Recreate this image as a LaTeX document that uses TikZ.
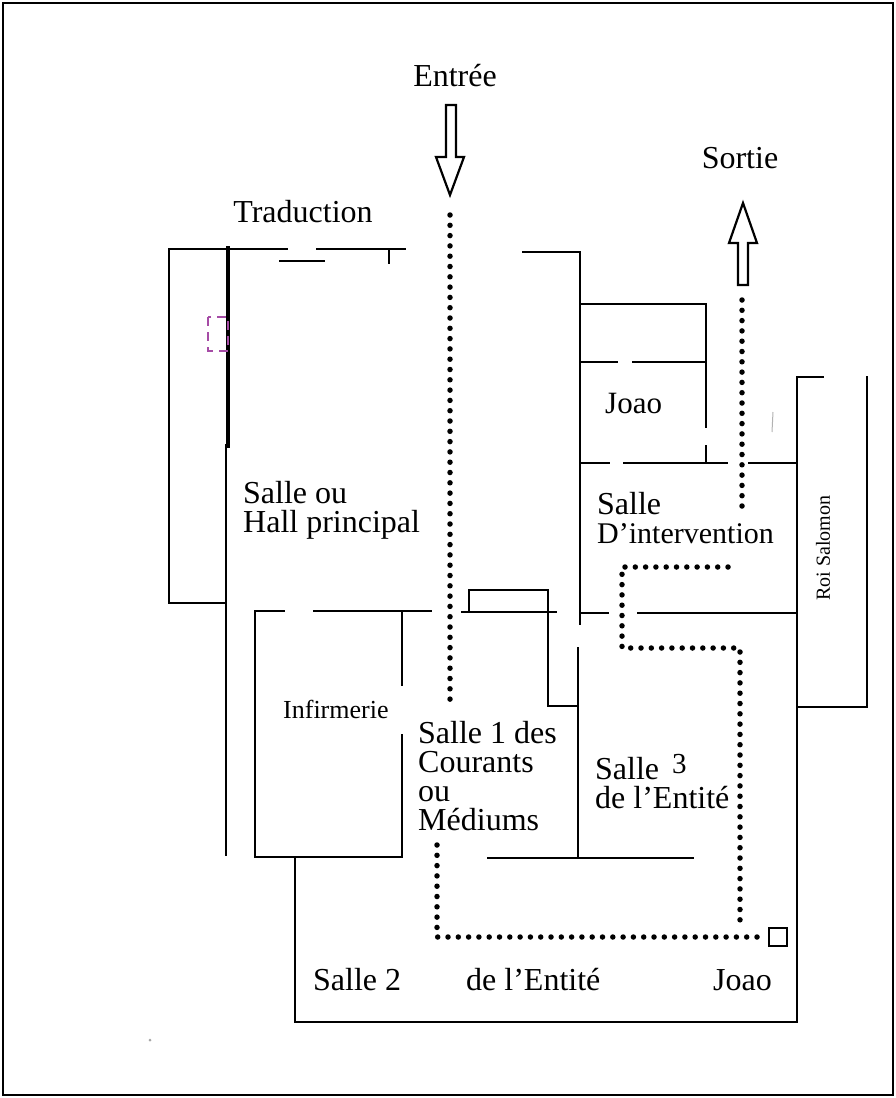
\documentclass[tikz,border=0pt]{standalone}
\usepackage{fontspec}
\setmainfont{Liberation Serif}
\usepackage{tikz}

\tikzset{
    wall/.style={line width=2.6pt, line cap=rect},
    dots/.style={line width=5.5pt, line cap=round, dash pattern=on 0pt off 10.3pt},
    lbl/.style={anchor=base west, inner sep=0pt, align=left, font=\fontsize{32}{29}\selectfont},
    small/.style={anchor=base west, inner sep=0pt, font=\fontsize{26}{26}\selectfont}
}

\begin{document}
\begin{tikzpicture}[x=1pt, y=-1pt]
            \useasboundingbox (0,0) rectangle (896,1098);
            % frame of the page
            \draw[line width=2pt] (3,3) rectangle (893,1095);

            % Traduction
            \draw[wall] (226,603) -- (169,603) -- (169,249) -- (287,249);
            \draw[wall] (317,249) -- (405,249);
            \draw[wall] (389,249) -- (389,263);
            \draw[wall] (280,261) -- (324,261);
            \draw[line width=3.5pt] (228,246) -- (228,448);
            \draw[wall] (226,445) -- (226,855);
            \draw[line width=1.6pt, dashed, dash pattern=on 9pt off 6pt, color=violet!70] (208,317) rectangle (228,351);

            % right block: Joao, Salle d'intervention, Roi Salomon
            \draw[wall] (523,252) -- (580,252) -- (580,624);
            \draw[wall] (580,304) -- (706,304) -- (706,427);
            \draw[wall] (706,446) -- (706,463);
            \draw[wall] (580,362) -- (617,362);
            \draw[wall] (633,362) -- (706,362);
            \draw[wall] (580,463) -- (609,463);
            \draw[wall] (624,463) -- (727,463);
            \draw[wall] (749,463) -- (797,463);
            \draw[wall] (823,377) -- (797,377) -- (797,1022) -- (295,1022) -- (295,857);
            \draw[wall] (867,377) -- (867,707) -- (797,707);
            \draw[wall] (580,613) -- (608,613);
            \draw[wall] (638,613) -- (797,613);

            % Infirmerie and Salle 1
            \draw[wall] (284,611) -- (255,611) -- (255,857) -- (402,857) -- (402,735);
            \draw[wall] (314,611) -- (431,611);
            \draw[wall] (402,611) -- (402,685);
            \draw[wall] (462,612) -- (556,612);
            \draw[wall] (469,612) -- (469,590) -- (548,590) -- (548,706) -- (578,706);
            \draw[wall] (578,648) -- (578,858);
            \draw[wall] (488,858) -- (693,858);

            % arrows in and out
            \draw[line width=2.2pt, line join=miter] (446,105) -- (456,105) -- (456,157) -- (464,157) -- (450,195) -- (436,157) -- (446,157) -- cycle;
            \draw[line width=2.2pt, line join=miter] (738,285) -- (748,285) -- (748,243) -- (757,243) -- (743,203) -- (729,243) -- (738,243) -- cycle;

            % dotted way
            \draw[dots] (450,215) -- (450,703);
            \draw[dots] (437,845) -- (437,937) -- (765,937);
            \draw[dots] (728,567) -- (622,567) -- (622,648) -- (740,648) -- (740,930);
            \draw[dots] (742,300) -- (742,507);
            \draw[line width=2.2pt] (769,928) rectangle (787,946);

            % scan marks
            \draw[line width=1pt, gray!60] (773,412) -- (772,432);
            \fill[gray!70] (150,1040) circle (1.5);

            % labels
            \node[lbl, anchor=base] (entree) at (455,86) {Entrée};
            \node[lbl, anchor=base] (sortie) at (740,168) {Sortie};
            \node[lbl, anchor=base] (trad) at (303,222) {Traduction};
            \node[lbl, anchor=north west] (hall) at (243,481) {Salle ou\\Hall principal};
            \node[lbl, font=\fontsize{31}{31}\selectfont] (joao1) at (605,413) {Joao};
            \node[lbl, anchor=north west] (inter) at (597,492) {Salle\\{\fontsize{30}{27}\selectfont D’intervention}};
            \node[font=\fontsize{20}{20}\selectfont, rotate=90, inner sep=0pt] (roi) at (823,548) {Roi Salomon};
            \node[small] (inf) at (283,718) {Infirmerie};
            \node[lbl, anchor=north west] (med) at (418,721) {Salle 1 des\\Courants\\ou\\Médiums};
            \node[lbl, anchor=north west] (ent) at (595,757) {Salle\\de l’Entité};
            \node[lbl, font=\fontsize{29}{29}\selectfont] (trois) at (672,773) {3};
            \node[lbl] (s2a) at (313,990) {Salle 2};
            \node[lbl] (s2b) at (466,990) {de l’Entité};
            \node[lbl] (joao2) at (713,990) {Joao};
        \end{tikzpicture}
\end{document}
